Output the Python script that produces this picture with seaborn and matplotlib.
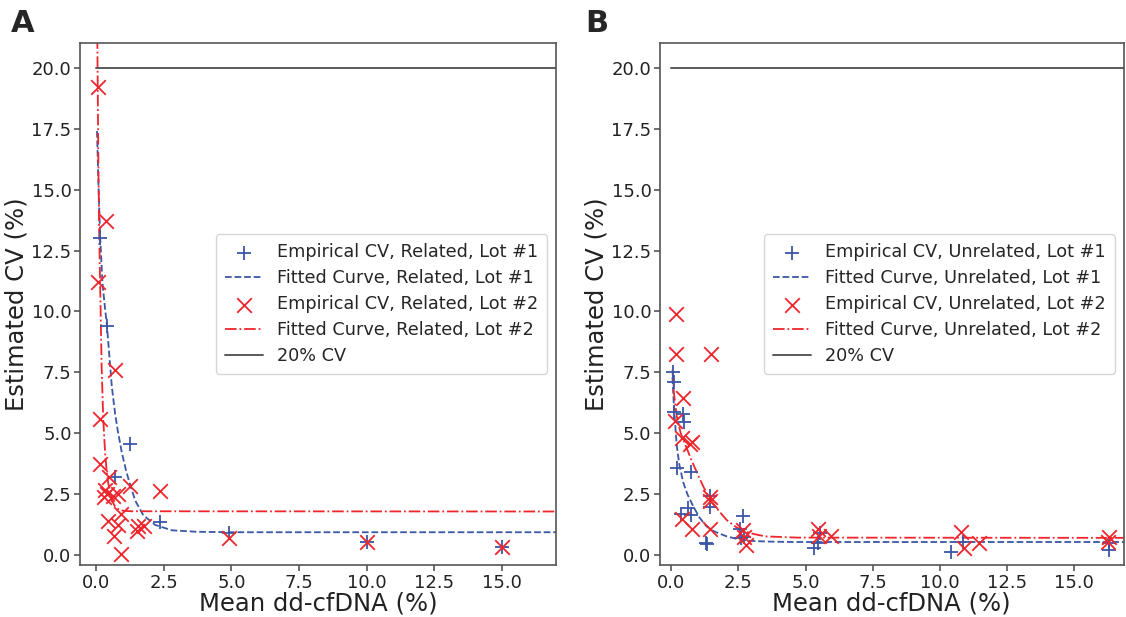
import numpy as np
import pandas as pd
import matplotlib
matplotlib.use('Agg')
import matplotlib.pyplot as plt
import seaborn as sns

sns.set_style("ticks")
plt.rcParams['font.family'] = ['DejaVu Sans']
plt.rcParams['axes.edgecolor'] = '#555555'
plt.rcParams['axes.linewidth'] = 1.2
plt.rcParams['xtick.color'] = '#555555'
plt.rcParams['ytick.color'] = '#555555'
plt.rcParams['xtick.labelcolor'] = '#222222'
plt.rcParams['ytick.labelcolor'] = '#222222'

BLUE = '#3A56A6'
RED = '#F0252C'
GREY = '#5a5a5a'

# ---- Panel A: Related ----
a_lot1_x = [0.15, 0.40, 0.70, 1.26, 2.37, 4.90, 10.0, 15.0]
a_lot1_y = [13.0, 9.4, 3.2, 4.57, 1.39, 0.90, 0.55, 0.35]
a_lot2_x = [0.07, 0.37, 0.07, 0.70, 0.15, 0.15, 0.48, 0.33, 0.40, 0.30, 0.63, 0.80,
            1.26, 2.37, 0.90, 0.45, 0.80, 1.55, 1.75, 1.50, 0.67, 0.93, 4.90, 10.0, 15.0]
a_lot2_y = [19.2, 13.7, 11.2, 7.6, 5.6, 3.75, 3.2, 2.7, 2.5, 2.4, 2.45, 2.5,
            2.85, 2.65, 1.7, 1.4, 1.25, 1.2, 1.2, 1.0, 0.8, 0.05, 0.7, 0.55, 0.35]
a_fit1_x = [0.03, 0.09, 0.15, 0.23, 0.32, 0.40, 0.50, 0.58, 0.70, 0.80, 0.95, 1.10,
            1.20, 1.44, 1.74, 2.18, 2.80, 3.70, 5.00, 17.0]
a_fit1_y = [17.4, 15.0, 13.0, 11.2, 10.2, 9.4, 8.0, 6.9, 5.8, 5.1, 4.2, 3.5,
            3.1, 2.25, 1.65, 1.25, 1.03, 0.97, 0.95, 0.95]
a_fit2_x = [0.02, 0.05, 0.08, 0.11, 0.15, 0.20, 0.26, 0.33, 0.40, 0.50, 0.60, 0.70,
            0.85, 1.00, 1.30, 17.0]
a_fit2_y = [24.4, 20.1, 16.2, 13.3, 10.9, 7.8, 5.6, 4.2, 3.3, 2.6, 2.2, 2.0,
            1.88, 1.83, 1.81, 1.80]

# ---- Panel B: Unrelated ----
b_lot1_x = [0.06, 0.11, 0.11, 0.43, 0.48, 0.22, 0.74, 0.37, 0.62, 0.74, 1.44, 1.44,
            1.30, 1.32, 2.65, 2.56, 2.70, 2.60, 5.30, 5.45, 5.55, 10.43, 10.87,
            16.3, 16.3]
b_lot1_y = [7.5, 7.1, 5.9, 5.8, 5.45, 3.6, 3.4, 1.7, 1.95, 1.65, 2.45, 2.0,
            0.5, 0.45, 1.6, 1.1, 0.77, 0.7, 0.3, 0.5, 0.9, 0.16, 0.57, 0.22, 0.5]
b_lot2_x = [0.18, 0.18, 1.48, 0.44, 0.15, 0.40, 0.76, 0.70, 1.45, 1.45, 0.40, 0.76,
            1.45, 2.65, 2.70, 2.77, 5.45, 5.48, 5.95, 10.8, 10.9, 11.45, 16.3, 16.27]
b_lot2_y = [9.9, 8.25, 8.25, 6.45, 5.5, 4.8, 4.65, 4.55, 2.4, 2.25, 1.5, 1.1,
            1.1, 1.05, 0.75, 0.42, 1.1, 0.78, 0.78, 0.98, 0.32, 0.5, 0.77, 0.57]
b_fit1_x = [0.04, 0.10, 0.20, 0.30, 0.44, 0.60, 0.82, 1.05, 1.30, 1.60, 2.06, 2.50,
            2.90, 3.50, 4.50, 17.0]
b_fit1_y = [7.3, 6.0, 4.5, 3.7, 3.0, 2.5, 2.0, 1.55, 1.2, 0.98, 0.78, 0.66,
            0.6, 0.57, 0.55, 0.55]
b_fit2_x = [0.04, 0.10, 0.20, 0.35, 0.57, 0.75, 0.95, 1.20, 1.44, 1.75, 2.06, 2.40,
            2.67, 3.10, 3.50, 4.70, 17.0]
b_fit2_y = [7.6, 6.6, 5.7, 5.0, 4.4, 3.9, 3.4, 2.8, 2.3, 1.85, 1.45, 1.17,
            1.0, 0.87, 0.78, 0.73, 0.72]

cv_x = [0, 17]
cv_y = [20, 20]

fig = plt.figure(figsize=(11.26, 6.17), dpi=100)
ax_a = fig.add_axes([0.071, 0.084, 0.423, 0.846])
ax_b = fig.add_axes([0.586, 0.084, 0.412, 0.846])


def draw_panel(ax, kind, p1x, p1y, f1x, f1y, p2x, p2y, f2x, f2y, xlim):
    sns.scatterplot(x=p1x, y=p1y, ax=ax, marker='+', s=110, color=BLUE,
                    linewidth=1.3, label=f'Empirical CV, {kind}, Lot #1', zorder=3)
    sns.lineplot(x=f1x, y=f1y, ax=ax, color=BLUE, linestyle='--', linewidth=1.3,
                 sort=False, estimator=None, label=f'Fitted Curve, {kind}, Lot #1')
    sns.scatterplot(x=p2x, y=p2y, ax=ax, marker='x', s=110, color=RED,
                    linewidth=1.3, label=f'Empirical CV, {kind}, Lot #2', zorder=3)
    sns.lineplot(x=f2x, y=f2y, ax=ax, color=RED, linestyle='-.', linewidth=1.3,
                 sort=False, estimator=None, label=f'Fitted Curve, {kind}, Lot #2')
    sns.lineplot(x=cv_x, y=cv_y, ax=ax, color=GREY, linewidth=1.4,
                 sort=False, estimator=None, label='20% CV')
    ax.set_xlim(*xlim)
    ax.set_ylim(-0.4, 21)
    ax.set_xticks([0, 2.5, 5, 7.5, 10, 12.5, 15])
    ax.set_yticks([0, 2.5, 5, 7.5, 10, 12.5, 15, 17.5, 20])
    ax.set_xticklabels(['0.0', '2.5', '5.0', '7.5', '10.0', '12.5', '15.0'])
    ax.set_yticklabels(['0.0', '2.5', '5.0', '7.5', '10.0', '12.5', '15.0', '17.5', '20.0'])
    ax.tick_params(labelsize=13, length=4, width=1.2, pad=2)
    ax.set_xlabel('Mean dd-cfDNA (%)', fontsize=17.5, color='#222222', labelpad=0)
    ax.set_ylabel('Estimated CV (%)', fontsize=17.5, color='#222222', labelpad=2)
    ax.legend(loc='center right', fontsize=12.7, handlelength=2.2,
              borderpad=0.5, labelspacing=0.45)


draw_panel(ax_a, 'Related', a_lot1_x, a_lot1_y, a_fit1_x, a_fit1_y,
           a_lot2_x, a_lot2_y, a_fit2_x, a_fit2_y, (-0.6, 17.0))
draw_panel(ax_b, 'Unrelated', b_lot1_x, b_lot1_y, b_fit1_x, b_fit1_y,
           b_lot2_x, b_lot2_y, b_fit2_x, b_fit2_y, (-0.43, 16.85))

fig.text(0.010, 0.985, 'A', fontsize=22, fontweight='bold', va='top', ha='left')
fig.text(0.520, 0.985, 'B', fontsize=22, fontweight='bold', va='top', ha='left')

fig.savefig('out.png', dpi=100)
